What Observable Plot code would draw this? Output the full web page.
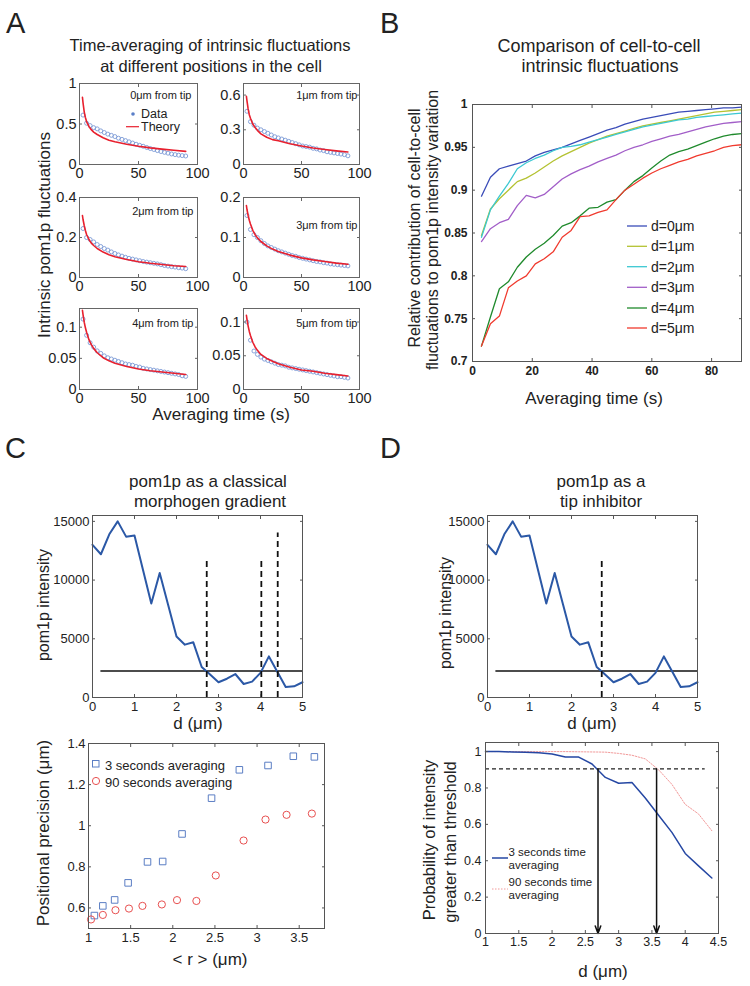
<!DOCTYPE html>
<html><head><meta charset="utf-8">
<script src="https://cdn.jsdelivr.net/npm/d3@7"></script>
<script src="https://cdn.jsdelivr.net/npm/@observablehq/plot@0.6"></script>
<style>
body{margin:0;background:#fff;}
#root{position:relative;width:750px;height:986px;overflow:hidden;background:#fff;}
</style></head><body><div id="root"></div>
<script>
// ---------------- DATA ----------------
// Panel A
const timeData = [3,6,9,12,15,18,21,24,27,30,33,36,39,42,45,48,51,54,57,60,63,66,69,72,75,78,81,84,87,90];
const timeTheory = [2.5,3,4,5,6,8,10,12,15,20,25,30,40,50,60,70,80,90];
const posLabels = ["0μm from tip","1μm from tip","2μm from tip","3μm from tip","4μm from tip","5μm from tip"];
const yMaxA = [1, 0.7, 0.4, 0.2, 0.13, 0.12];
const yTicksA = [[0,0.5,1],[0,0.3,0.6],[0,0.2,0.4],[0,0.1,0.2],[0,0.05,0.1],[0,0.05,0.1]];
const xTicksA = [0,50,100];
const dataA0 = [0.61,0.51,0.48,0.455,0.44,0.415,0.395,0.375,0.36,0.345,0.325,0.31,0.295,0.28,0.265,0.25,0.237,0.225,0.21,0.197,0.185,0.172,0.16,0.15,0.14,0.13,0.122,0.115,0.11,0.105];
const dataA1 = [0.46,0.37,0.34,0.315,0.3,0.285,0.27,0.255,0.24,0.23,0.22,0.21,0.2,0.19,0.18,0.17,0.16,0.155,0.15,0.14,0.135,0.125,0.12,0.11,0.105,0.1,0.095,0.09,0.085,0.075];
const dataA2 = [0.245,0.2,0.19,0.178,0.165,0.155,0.145,0.137,0.128,0.12,0.113,0.107,0.101,0.096,0.092,0.088,0.084,0.08,0.077,0.074,0.071,0.068,0.064,0.06,0.057,0.054,0.052,0.049,0.047,0.044];
const dataA3 = [0.155,0.12,0.107,0.1,0.092,0.085,0.079,0.075,0.071,0.067,0.064,0.061,0.058,0.055,0.053,0.05,0.048,0.046,0.044,0.042,0.04,0.039,0.037,0.036,0.034,0.033,0.032,0.031,0.03,0.029];
const dataA4 = [0.113,0.087,0.075,0.068,0.062,0.058,0.054,0.051,0.049,0.047,0.045,0.043,0.041,0.04,0.039,0.037,0.036,0.034,0.033,0.032,0.031,0.03,0.029,0.028,0.027,0.026,0.025,0.024,0.022,0.021];
const dataA5 = [0.1,0.073,0.057,0.052,0.048,0.045,0.043,0.041,0.039,0.037,0.036,0.035,0.033,0.032,0.031,0.03,0.029,0.028,0.027,0.026,0.025,0.024,0.023,0.022,0.021,0.02,0.019,0.019,0.018,0.017];
const theoryA0 = [0.83,0.76,0.65,0.58,0.53,0.47,0.43,0.4,0.37,0.33,0.3,0.28,0.25,0.225,0.205,0.19,0.175,0.162];
const theoryA1 = [0.59,0.55,0.48,0.43,0.4,0.35,0.32,0.295,0.265,0.235,0.215,0.205,0.18,0.16,0.142,0.13,0.118,0.108];
const theoryA2 = [0.31,0.29,0.26,0.235,0.215,0.19,0.172,0.16,0.145,0.127,0.114,0.104,0.09,0.079,0.071,0.065,0.059,0.055];
const theoryA3 = [0.18,0.17,0.155,0.143,0.134,0.118,0.107,0.099,0.09,0.079,0.071,0.065,0.056,0.049,0.044,0.04,0.036,0.033];
const theoryA4 = [0.127,0.12,0.108,0.099,0.092,0.08,0.072,0.066,0.059,0.051,0.046,0.042,0.037,0.033,0.03,0.028,0.026,0.024];
const theoryA5 = [0.11,0.104,0.094,0.086,0.08,0.07,0.063,0.058,0.052,0.046,0.042,0.038,0.033,0.029,0.027,0.024,0.022,0.02];

// Panel B
const seriesB = ["d=0μm","d=1μm","d=2μm","d=3μm","d=4μm","d=5μm"];
const xTicksB = [0,20,40,60,80];
const yTicksB = [0.7,0.75,0.8,0.85,0.9,0.95,1];
const b0 = [0.893,0.915,0.925,0.928,0.931,0.934,0.94,0.944,0.947,0.95,0.954,0.958,0.962,0.966,0.97,0.973,0.977,0.98,0.983,0.985,0.987,0.989,0.991,0.992,0.993,0.994,0.995,0.996,0.996,0.997];
const b1 = [0.847,0.878,0.89,0.9,0.91,0.914,0.92,0.927,0.934,0.94,0.945,0.95,0.955,0.959,0.963,0.966,0.969,0.972,0.975,0.977,0.979,0.981,0.983,0.985,0.987,0.989,0.991,0.992,0.993,0.994];
const b2 = [0.845,0.877,0.893,0.908,0.925,0.932,0.937,0.941,0.946,0.95,0.951,0.953,0.956,0.959,0.962,0.965,0.968,0.971,0.974,0.976,0.978,0.98,0.982,0.983,0.985,0.986,0.987,0.988,0.989,0.99];
const b3 = [0.84,0.855,0.862,0.866,0.882,0.894,0.891,0.895,0.904,0.913,0.919,0.924,0.928,0.933,0.937,0.941,0.946,0.95,0.953,0.957,0.96,0.963,0.965,0.968,0.971,0.974,0.976,0.978,0.979,0.98];
const b4 = [0.718,0.752,0.785,0.793,0.81,0.822,0.831,0.838,0.847,0.858,0.862,0.87,0.879,0.88,0.886,0.889,0.9,0.91,0.917,0.926,0.934,0.941,0.945,0.948,0.952,0.956,0.96,0.963,0.965,0.966];
const b5 = [0.718,0.744,0.753,0.786,0.794,0.8,0.814,0.82,0.828,0.845,0.853,0.869,0.87,0.874,0.877,0.889,0.9,0.907,0.914,0.92,0.925,0.929,0.933,0.936,0.94,0.943,0.946,0.95,0.952,0.953];

// Panel C/D profile
const dPos = [0,0.2,0.4,0.6,0.8,1.0,1.2,1.4,1.6,1.8,2.0,2.2,2.4,2.6,2.8,3.0,3.2,3.4,3.6,3.8,4.0,4.2,4.4,4.6,4.8,5.0];
const intensity = [13000,12200,13900,15000,13700,13800,10900,8000,10600,7900,5200,4500,4700,2600,1950,1300,1600,2000,1150,1350,2100,3500,2200,900,950,1300];
const threshold = 2250;
const thresholdFrom = 0.2;
const crossC = [2.72, 4.02, 4.41];
const crossCHeight = [11900, 11900, 14000];
const crossD = [2.72];
const crossDHeight = [11900];
const xTicksCD = [0,1,2,3,4,5];
const yTicksCD = [0,5000,10000,15000];

// Panel C bottom
const rMean3 = [1.07,1.17,1.31,1.47,1.70,1.88,2.11,2.46,2.79,3.13,3.43,3.68];
const prec3 = [0.563,0.61,0.639,0.722,0.824,0.826,0.96,1.134,1.272,1.293,1.338,1.335];
const rMean90 = [1.03,1.17,1.32,1.48,1.64,1.87,2.05,2.28,2.51,2.84,3.10,3.35,3.65];
const prec90 = [0.544,0.566,0.589,0.597,0.61,0.617,0.638,0.634,0.758,0.928,1.03,1.053,1.059];
const xTicksCb = [1,1.5,2,2.5,3,3.5];
const yTicksCb = [0.6,0.8,1,1.2,1.4];

// Panel D bottom
const dProb = [1.0,1.2,1.4,1.6,1.8,2.0,2.2,2.4,2.6,2.8,3.0,3.2,3.4,3.6,3.8,4.0,4.2,4.4];
const prob3 = [1.0,1.0,0.998,0.997,0.993,0.987,0.97,0.97,0.932,0.858,0.826,0.83,0.745,0.65,0.556,0.44,0.372,0.305];
const prob90 = [1.0,1.0,1.0,1.0,1.0,1.0,1.0,0.999,0.998,0.997,0.99,0.98,0.96,0.9,0.82,0.71,0.657,0.565];
const probThreshold = 0.905;
const probThresholdTo = 4.3;
const crossProb = [2.69, 3.57];
const xTicksDb = [1,1.5,2,2.5,3,3.5,4,4.5];
const yTicksDb = [0,0.2,0.4,0.6,0.8,1];

// ---------------- STYLE ----------------
const FONT = "'Liberation Sans', Arial, Helvetica, sans-serif";
const RED_A = "#e8202e", BLUE_A = "#7c9ad6";
const COL_B = ["#3a4cb8","#b4c232","#3cc8d2","#a25ec8","#1f8a2c","#f03a2e"];
const BLUE_CD = "#2b58a6";
const fmt = d => String(d);
const root = document.getElementById("root");

function addPlot(p) {
  const ml = 70, mr = 20, mt = 12, mb = 30;
  const w = p.x1 - p.x0, h = p.y1 - p.y0;
  const ts = p.ts ?? 4;
  const fc = p.frameColor ?? "#555";
  const svg = Plot.plot({
    width: w + ml + mr, height: h + mt + mb,
    marginLeft: ml, marginRight: mr, marginTop: mt, marginBottom: mb,
    x: {domain: p.xDomain}, y: {domain: p.yDomain},
    style: {fontFamily: FONT, fontSize: p.fs + "px", fontWeight: p.fw ?? "normal", color: "#222", background: "transparent", overflow: "visible"},
    marks: [
      ...p.marks,
      Plot.axisX(p.xTicks, {anchor: "bottom", tickSize: -ts, fill: "none", stroke: fc, label: null}),
      Plot.axisX(p.xTicks, {anchor: "top", tickSize: -ts, fill: "none", stroke: fc, label: null}),
      Plot.axisY(p.yTicks, {anchor: "left", tickSize: -ts, fill: "none", stroke: fc, label: null}),
      Plot.axisY(p.yTicks, {anchor: "right", tickSize: -ts, fill: "none", stroke: fc, label: null}),
      Plot.axisX(p.xTicks, {anchor: "bottom", tickSize: 0, tickPadding: p.gx ?? 4, tickFormat: fmt, label: null}),
      Plot.axisY(p.yTicks, {anchor: "left", tickSize: 0, tickPadding: p.gy ?? 3, tickFormat: fmt, label: null}),
      Plot.frame({stroke: fc, strokeWidth: 1})
    ]
  });
  svg.style.position = "absolute";
  svg.style.left = (p.x0 - ml) + "px";
  svg.style.top = (p.y0 - mt) + "px";
  root.appendChild(svg);
}

// ---------------- PANEL A ----------------
const dataA = [dataA0, dataA1, dataA2, dataA3, dataA4, dataA5];
const theoryA = [theoryA0, theoryA1, theoryA2, theoryA3, theoryA4, theoryA5];
const framesA = [
  {x0: 79, x1: 197, y0: 83, y1: 164}, {x0: 243, x1: 359, y0: 83, y1: 164},
  {x0: 79, x1: 197, y0: 197, y1: 277}, {x0: 243, x1: 359, y0: 197, y1: 277},
  {x0: 79, x1: 197, y0: 308, y1: 389}, {x0: 243, x1: 359, y0: 308, y1: 389}
];
const labelOffsetA = [[-6, 12], [-2, 12], [-4, 14], [-2, 28], [-4, 15], [-2, 15]];
framesA.forEach((f, i) => {
  const pts = timeData.map((t, j) => ({t, v: dataA[i][j]}));
  const th = timeTheory.map((t, j) => ({t, v: theoryA[i][j]}));
  addPlot({
    ...f, xDomain: [0, 100], yDomain: [0, yMaxA[i]], xTicks: xTicksA, yTicks: yTicksA[i],
    fs: 14.5, gx: 3, gy: 3, frameColor: "#666", ts: 3,
    marks: [
      Plot.dot(pts, {x: "t", y: "v", r: 2, stroke: BLUE_A, strokeWidth: 0.9, fill: "none"}),
      Plot.line(th, {x: "t", y: "v", stroke: RED_A, strokeWidth: 1.6}),
      Plot.text([posLabels[i]], {text: d => d, frameAnchor: "top-right", lineAnchor: "middle", dx: labelOffsetA[i][0], dy: labelOffsetA[i][1], fontSize: 11, fill: "#222"})
    ]
  });
});

// ---------------- PANEL B ----------------
const seriesBValues = [b0, b1, b2, b3, b4, b5];
const rowsB = seriesB.flatMap((s, k) => timeData.map((t, j) => ({s, t, v: seriesBValues[k][j]})));
addPlot({
  x0: 472, x1: 741, y0: 104, y1: 361, xDomain: [0, 90], yDomain: [0.7, 1],
  xTicks: xTicksB, yTicks: yTicksB, fs: 12, fw: "bold", gx: 5, gy: 5, ts: 3,
  marks: seriesB.map((s, k) => Plot.line(rowsB.filter(r => r.s === s), {x: "t", y: "v", stroke: COL_B[k], strokeWidth: 1.3}))
});

// ---------------- PANEL C/D top ----------------
const profile = dPos.map((d, j) => ({d, v: intensity[j]}));
function topPanel(f, cross, heights) {
  const crossRows = cross.map((d, j) => ({d, h: heights[j]}));
  addPlot({
    ...f, xDomain: [0, 5], yDomain: [0, 15500], xTicks: xTicksCD, yTicks: yTicksCD,
    fs: 13, gx: 4, gy: 3, ts: 3,
    marks: [
      Plot.ruleY([threshold], {y: d => d, x1: thresholdFrom, x2: 5, stroke: "#111", strokeWidth: 1.5}),
      Plot.line(profile, {x: "d", y: "v", stroke: BLUE_CD, strokeWidth: 2}),
      Plot.ruleX(crossRows, {x: "d", y1: 0, y2: "h", stroke: "#111", strokeWidth: 1.8, strokeDasharray: "6,4"})
    ]
  });
}
topPanel({x0: 92, x1: 302, y0: 515, y1: 697}, crossC, crossCHeight);
topPanel({x0: 487, x1: 697, y0: 515, y1: 697}, crossD, crossDHeight);

// ---------------- PANEL C bottom ----------------
const sq = rMean3.map((r, j) => ({r, p: prec3[j]}));
const ci = rMean90.map((r, j) => ({r, p: prec90[j]}));
addPlot({
  x0: 88, x1: 324, y0: 743, y1: 928, xDomain: [1, 3.8], yDomain: [0.5, 1.4],
  xTicks: xTicksCb, yTicks: yTicksCb, fs: 13, gx: 4, gy: 3, ts: 3,
  marks: [
    Plot.dot(sq, {x: "r", y: "p", symbol: "square", r: 3.7, stroke: "#5b7ec4", fill: "none", strokeWidth: 1}),
    Plot.dot(ci, {x: "r", y: "p", symbol: "circle", r: 3.6, stroke: "#e85050", fill: "none", strokeWidth: 1})
  ]
});

// ---------------- PANEL D bottom ----------------
const p3 = dProb.map((d, j) => ({d, v: prob3[j]}));
const p90 = dProb.map((d, j) => ({d, v: prob90[j]}));
const arrows = crossProb.map(d => ({d, y1: probThreshold, y2: 0}));
addPlot({
  x0: 485, x1: 718, y0: 742, y1: 933, xDomain: [1, 4.5], yDomain: [0, 1.05],
  xTicks: xTicksDb, yTicks: yTicksDb, fs: 12.5, gx: 4, gy: 4, ts: 3,
  marks: [
    Plot.line(p90, {x: "d", y: "v", stroke: "#f29a9a", strokeWidth: 1, strokeDasharray: "1.5,1.5"}),
    Plot.line(p3, {x: "d", y: "v", stroke: "#2547a3", strokeWidth: 1.5}),
    Plot.ruleY([probThreshold], {y: d => d, x1: 1, x2: probThresholdTo, stroke: "#222", strokeWidth: 1.2, strokeDasharray: "4,3"}),
    Plot.arrow(arrows, {x1: "d", x2: "d", y1: "y1", y2: "y2", stroke: "#111", strokeWidth: 1.5, headLength: 8, headAngle: 40})
  ]
});

// ---------------- OVERLAY TEXT ----------------
const ov = d3.create("svg").attr("width", 750).attr("height", 986)
  .style("position", "absolute").style("left", "0px").style("top", "0px")
  .style("font-family", FONT).style("fill", "#222");
function txt(s, x, y, size, anchor = "middle", rot = 0) {
  const t = ov.append("text").text(s).attr("font-size", size).attr("text-anchor", anchor).attr("fill", "#222");
  if (rot) t.attr("transform", `translate(${x},${y}) rotate(${rot})`);
  else t.attr("x", x).attr("y", y);
  return t;
}
// panel letters
txt("A", 6, 33, 29, "start"); txt("B", 380, 33, 29, "start");
txt("C", 5, 458, 29, "start"); txt("D", 380, 458, 29, "start");
// titles
txt("Time-averaging of intrinsic fluctuations", 210, 50.5, 16.5);
txt("at different positions in the cell", 211, 71.5, 16.5);
txt("Comparison of cell-to-cell", 599, 51.5, 18);
txt("intrinsic fluctuations", 600, 72, 18);
txt("pom1p as a classical", 208, 486.5, 17);
txt("morphogen gradient", 210, 506.5, 17);
txt("pom1p as a", 601, 486.5, 17);
txt("tip inhibitor", 601, 506.5, 17);
// axis labels
txt("Intrinsic pom1p fluctuations", 50, 235, 17, "middle", -90);
txt("Averaging time (s)", 221, 420, 17);
txt("Relative contribution of cell-to-cell", 420, 228, 16, "middle", -90);
txt("fluctuations to pom1p intensity variation", 438, 230, 16, "middle", -90);
txt("Averaging time (s)", 594, 404, 17);
txt("pom1p intensity", 49, 605, 16, "middle", -90);
txt("d (μm)", 198, 729, 17);
txt("pom1p intensity", 451, 613, 16, "middle", -90);
txt("d (μm)", 592, 729, 17);
txt("Positional precision (μm)", 49, 833, 17, "middle", -90);
txt("< r > (μm)", 210, 965, 17);
txt("Probability of intensity", 435, 840, 16.5, "middle", -90);
txt("greater than threshold", 456, 842, 16.5, "middle", -90);
txt("d (μm)", 603, 977, 17);
// legend A
ov.append("circle").attr("cx", 133).attr("cy", 114).attr("r", 1.8).attr("fill", "#5a7fc8");
txt("Data", 141, 118, 12.5, "start");
ov.append("line").attr("x1", 126).attr("x2", 139).attr("y1", 126.7).attr("y2", 126.7).attr("stroke", RED_A).attr("stroke-width", 1.2);
txt("Theory", 141, 131, 12.5, "start");
// legend B
const legBY = [226, 246.3, 266.7, 287.3, 308, 328];
seriesB.forEach((s, k) => {
  ov.append("line").attr("x1", 627).attr("x2", 647).attr("y1", legBY[k]).attr("y2", legBY[k]).attr("stroke", COL_B[k]).attr("stroke-width", 1.3);
  txt(s, 651, legBY[k] + 5, 14, "start");
});
// legend C bottom
ov.append("rect").attr("x", 92.5).attr("y", 760.5).attr("width", 6.5).attr("height", 6.5).attr("fill", "none").attr("stroke", "#5b7ec4");
txt("3 seconds averaging", 105, 769.5, 13, "start");
ov.append("circle").attr("cx", 96).attr("cy", 781).attr("r", 3.6).attr("fill", "none").attr("stroke", "#e85050");
txt("90 seconds averaging", 105, 786.5, 13, "start");
// legend D bottom
ov.append("line").attr("x1", 492).attr("x2", 508).attr("y1", 858).attr("y2", 858).attr("stroke", "#2547a3").attr("stroke-width", 1.5);
txt("3 seconds time", 508.5, 856, 11.5, "start");
txt("averaging", 508.5, 869, 11.5, "start");
ov.append("line").attr("x1", 492).attr("x2", 508).attr("y1", 889).attr("y2", 889).attr("stroke", "#f29a9a").attr("stroke-width", 1).attr("stroke-dasharray", "1.5,1.5");
txt("90 seconds time", 508.5, 886, 11.5, "start");
txt("averaging", 508.5, 899, 11.5, "start");
root.appendChild(ov.node());
</script></body></html>
